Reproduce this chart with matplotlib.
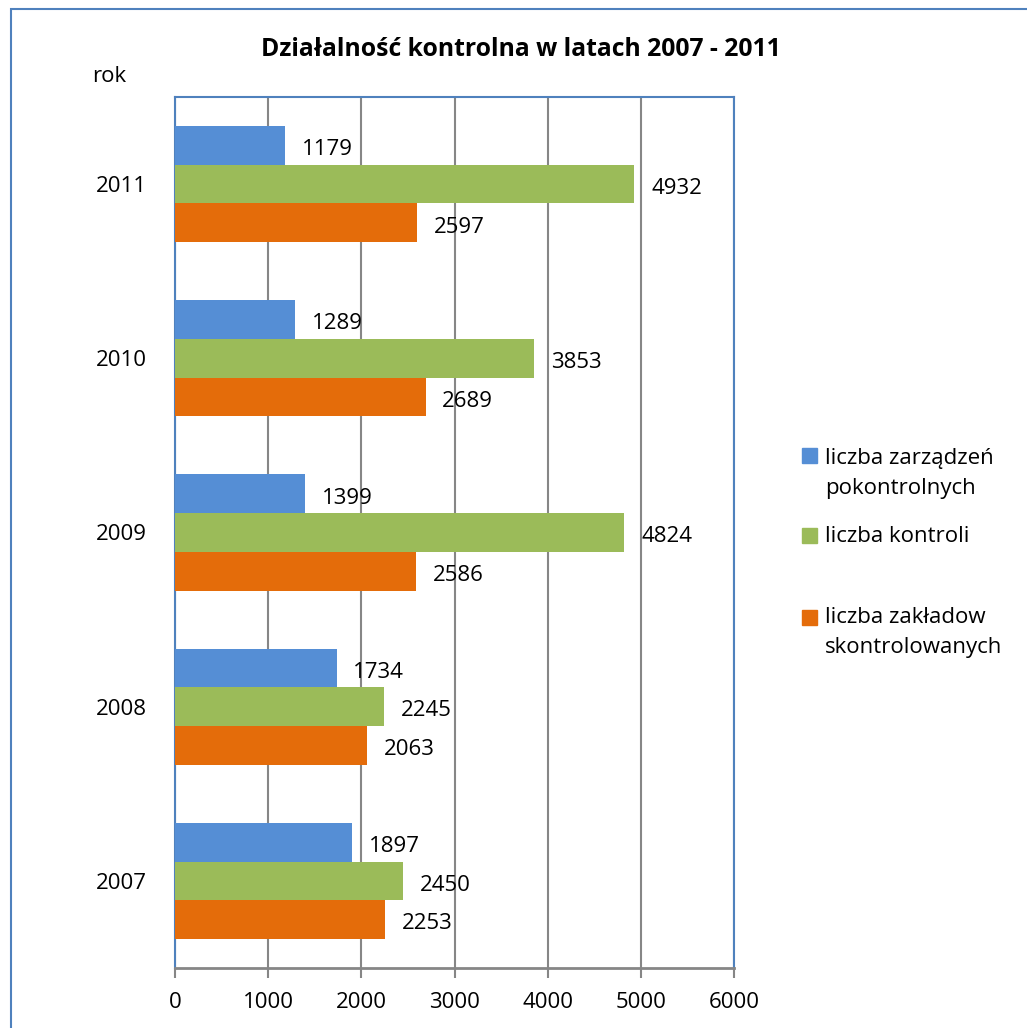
import numpy as np
import matplotlib.pyplot as plt
from matplotlib.patches import Rectangle

plt.rcParams['font.family'] = ['Open Sans', 'DejaVu Sans']

# data
years = ['2007', '2008', '2009', '2010', '2011']
zarzadzenia = [1897, 1734, 1399, 1289, 1179]
kontrole = [2450, 2245, 4824, 3853, 4932]
zaklady = [2253, 2063, 2586, 2689, 2597]

series = [
    ('liczba zarządzeń\npokontrolnych', zarzadzenia, '#558ED5'),
    ('liczba kontroli', kontrole, '#9BBB59'),
    ('liczba zakładow\nskontrolowanych', zaklady, '#E46C0A'),
]

fs = 16

fig = plt.figure(figsize=(10.27, 10.28), dpi=100)
ax = fig.add_axes([175 / 1027, 60 / 1028, 559 / 1027, 871 / 1028])

y = np.arange(len(years))
h = 0.222
offsets = [h, 0, -h]

for (name, vals, col), off in zip(series, offsets):
    bars = ax.barh(y + off, vals, height=h, color=col, zorder=3)
    for b, v in zip(bars, vals):
        ax.text(v + 180, b.get_y() + b.get_height() / 2 - 0.01, str(v),
                va='center_baseline', ha='left', fontsize=fs, zorder=4)

ax.set_xlim(0, 6000)
ax.set_ylim(-0.5, len(years) - 0.5)
ax.set_xticks(range(0, 6001, 1000))
ax.set_yticks(y)
ax.set_yticklabels(years)
ax.tick_params(axis='y', length=0, pad=20, labelsize=fs)
ax.tick_params(axis='x', length=7, width=1.5, color='#868686', pad=10, labelsize=fs)
ax.grid(axis='x', color='#868686', linewidth=1.5, zorder=0)

for side in ['left', 'top', 'right']:
    ax.spines[side].set_color('#4F81BD')
    ax.spines[side].set_linewidth(1.5)
ax.spines['bottom'].set_color('#868686')
ax.spines['bottom'].set_linewidth(2)

fig.text(521 / 1027, 1 - 49 / 1028, 'Działalność kontrolna w latach 2007 - 2011',
         ha='center', va='center', fontsize=17.8, fontweight='bold')
fig.text(92 / 1027, 1 - 77 / 1028, 'rok', ha='left', va='center', fontsize=fs)

# legend drawn by hand to keep the uneven spacing of the original
# text_y is the baseline of the last line of each entry
box_y = [455, 535, 617]
text_y = [494, 542, 653]
for (name, vals, col), by, ty in zip(series, box_y, text_y):
    fig.patches.append(Rectangle((802 / 1027, 1 - (by + 7.5) / 1028), 15 / 1027, 15 / 1028,
                                 transform=fig.transFigure, color=col))
    fig.text(825 / 1027, 1 - ty / 1028, name, ha='left', va='baseline',
             fontsize=fs, linespacing=1.55)

# outer chart frame
fig.patches.append(Rectangle((11 / 1027, -0.01), 1.1, 1 - 9 / 1028 + 0.01,
                             transform=fig.transFigure, fill=False,
                             edgecolor='#4F81BD', linewidth=1.5))

fig.savefig('out.png', dpi=100)
